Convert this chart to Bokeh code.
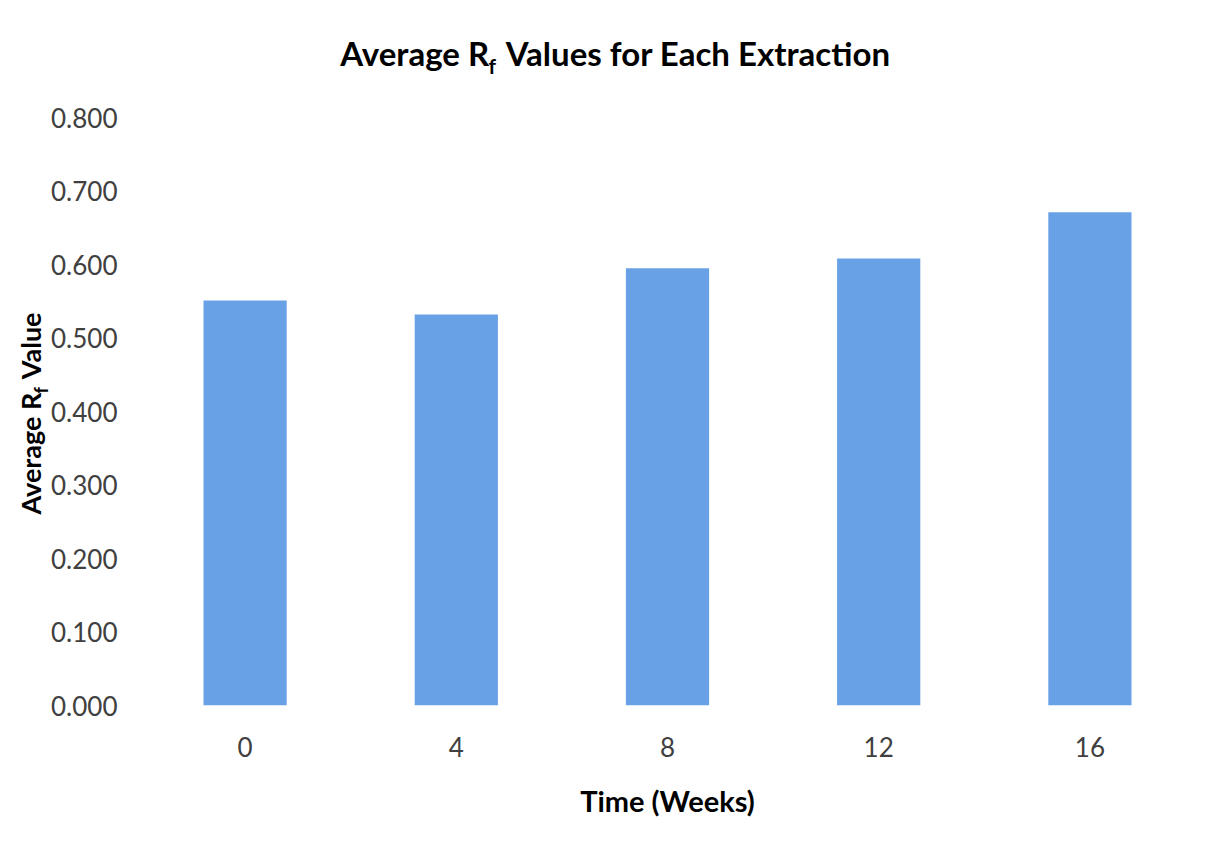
from bokeh.plotting import figure
from bokeh.models import (ColumnDataSource, FactorRange, Range1d, FixedTicker,
                          NumeralTickFormatter, Label)
from bokeh.embed import file_html
from bokeh.resources import INLINE
import math

# ---- data ----
weeks = ["0", "4", "8", "12", "16"]
avg_rf = [0.551, 0.532, 0.595, 0.608, 0.671]
y_ticks = [0.0, 0.1, 0.2, 0.3, 0.4, 0.5, 0.6, 0.7, 0.8]

title_text = "Average R\u2002Values for Each Extraction"
title_sub = "f"
ylabel_text = "Average R\u2002Value"
ylabel_sub = "f"
xlabel = "Time (Weeks)"

FONT = "Lato"
BAR = "#68a1e5"

source = ColumnDataSource(data=dict(weeks=weeks, avg_rf=avg_rf))

p = figure(width=1225, height=854, output_backend="svg", toolbar_location=None,
           x_range=FactorRange(*weeks, range_padding=0), y_range=Range1d(0, 0.8),
           min_border_left=139, min_border_right=30, min_border_top=117,
           min_border_bottom=149)

p.vbar(x="weeks", top="avg_rf", width=0.394, source=source,
       fill_color=BAR, line_color=None)

p.outline_line_color = None
p.grid.grid_line_color = None
p.background_fill_color = "white"
p.border_fill_color = "white"
p.styles = {"outline": "1.5px solid #d6d6d6", "outline-offset": "-10px"}

# y axis
p.yaxis.ticker = FixedTicker(ticks=y_ticks)
p.yaxis.formatter = NumeralTickFormatter(format="0.000")
p.yaxis.axis_line_color = None
p.yaxis.major_tick_line_color = None
p.yaxis.minor_tick_line_color = None
p.yaxis.major_label_text_font = FONT
p.yaxis.major_label_text_font_size = "26px"
p.yaxis.major_label_text_color = "#404040"
p.yaxis.major_label_standoff = 16

# x axis
p.xaxis.axis_line_color = None
p.xaxis.major_tick_line_color = None
p.xaxis.minor_tick_line_color = None
p.xaxis.major_label_text_font = FONT
p.xaxis.major_label_text_font_size = "26px"
p.xaxis.major_label_text_color = "#404040"
p.xaxis.major_label_standoff = 25
p.xaxis.axis_label = xlabel
p.xaxis.axis_label_text_font = FONT
p.xaxis.axis_label_text_font_size = "29px"
p.xaxis.axis_label_text_font_style = "bold"
p.xaxis.axis_label_text_color = "black"
p.xaxis.axis_label_standoff = 23


def lab(x, y, text, size, align, angle=0.0):
    return Label(x=x, y=y, x_units="canvas", y_units="canvas", text=text,
                 angle=angle, text_font=FONT, text_font_size=size,
                 text_font_style="bold", text_color="black",
                 text_align=align, text_baseline="alphabetic")


# title (canvas units; side panels so they are not clipped by the frame)
p.add_layout(lab(615, 52, title_text, "33px", "center"), "above")
p.add_layout(lab(488, 65, title_sub, "21px", "left"), "above")

# y label (rotated)
p.add_layout(lab(30, 413, ylabel_text, "27px", "center", math.pi / 2), "left")
p.add_layout(lab(40, 393, ylabel_sub, "18px", "left", math.pi / 2), "above")

open("out.html", "w").write(file_html(p, INLINE))
